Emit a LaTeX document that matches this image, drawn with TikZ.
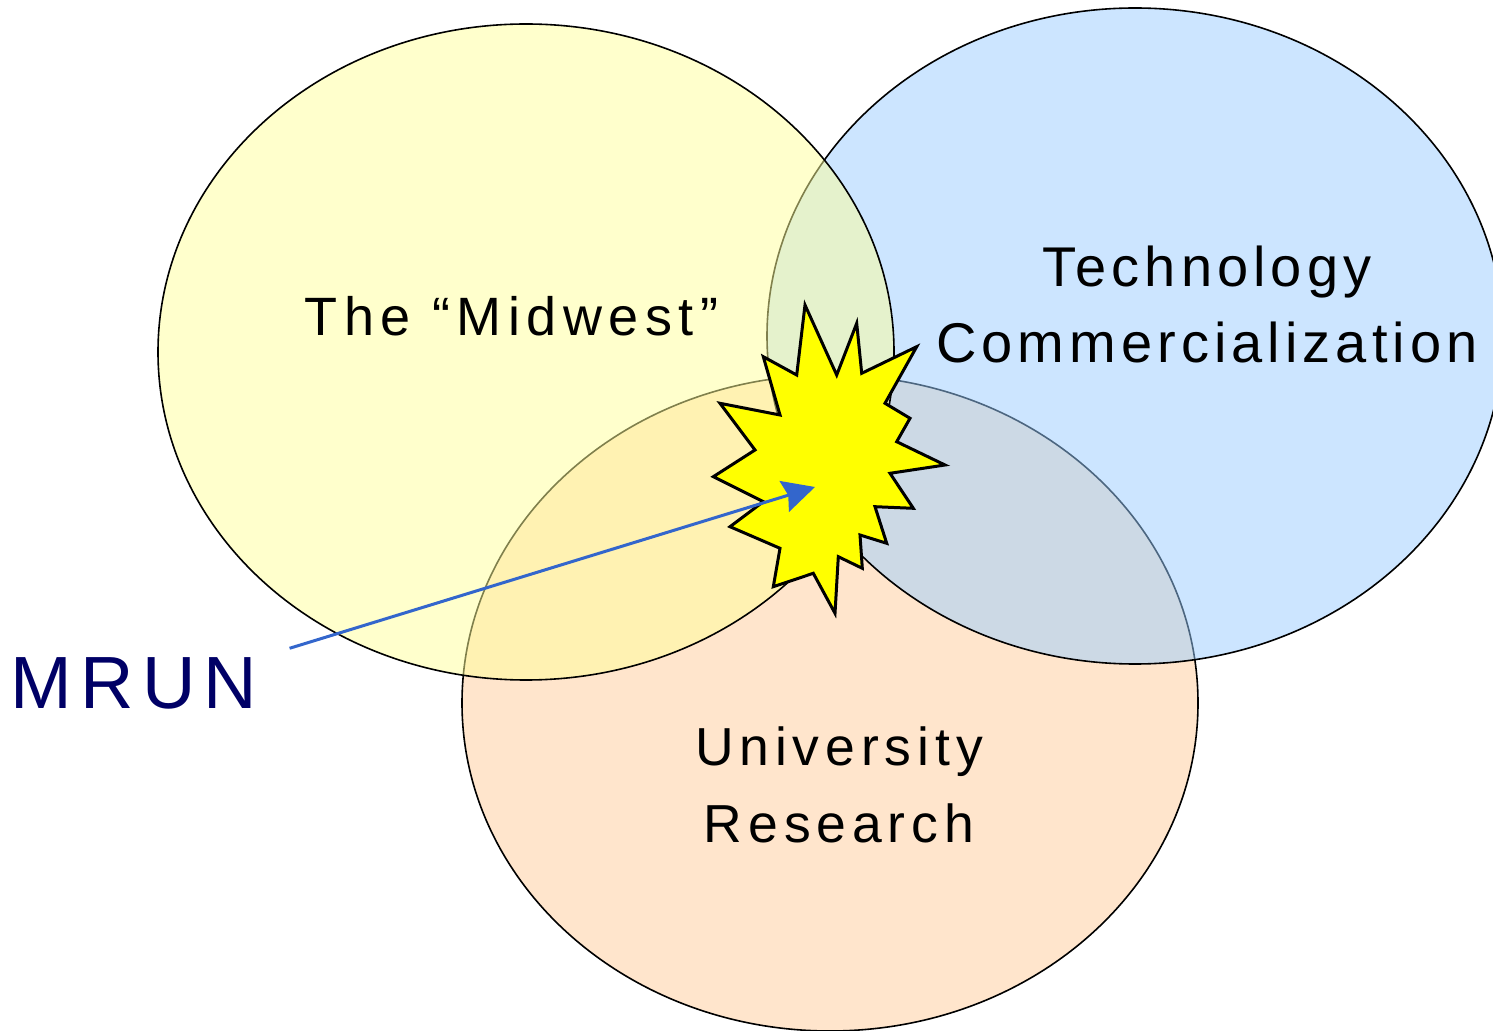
\documentclass[tikz,border=0pt]{standalone}
\usepackage{fontspec}
\setmainfont{Liberation Sans}
\usetikzlibrary{shapes.geometric,arrows.meta}
\definecolor{midyellow}{HTML}{FFFF99}
\definecolor{techblue}{HTML}{99CCFF}
\definecolor{unipeach}{HTML}{FFCC99}
\definecolor{burstyellow}{RGB}{255,255,0}
\definecolor{arrowblue}{HTML}{3366CC}
\definecolor{mrunnavy}{HTML}{000066}

\begin{document}
\begin{tikzpicture}[x=0.5pt,y=-0.5pt,
  area/.style={ellipse,draw=black,line width=0.8pt,fill opacity=0.5,
    minimum width=368pt,minimum height=328pt,inner sep=0pt},
  lbl/.style={inner sep=0pt,align=center,text=black}]
\tikzset{
  burst/.style={draw=black,fill=burstyellow,line width=1.5pt},
  pointer/.style={draw=arrowblue,line width=1.5pt,
    -{Stealth[length=16pt,width=16pt,inset=2pt]}}
}
\useasboundingbox (0,0) rectangle (1493,1031);
\node[area,fill=unipeach] (univ) at (830,703) {};
\node[area,fill=techblue] (tech) at (1135,336) {};
\node[area,fill=midyellow] (midwest) at (526,352) {};
\node[lbl,font=\fontsize{27}{38}\selectfont\addfontfeature{LetterSpace=12}]
  (midwestlbl) at (511.5,316) {The “Midwest”};
\node[lbl,font=\fontsize{28}{38.25}\selectfont\addfontfeature{LetterSpace=9}]
  (techlbl) at (1207,304.5) {Technology\\Commercialization};
\node[lbl,font=\fontsize{26.75}{38.5}\selectfont\addfontfeature{LetterSpace=11}]
  (univlbl) at (839,784.5) {University\\Research};
\node[lbl,text=mrunnavy,font=\fontsize{37}{44}\selectfont\addfontfeature{LetterSpace=11}]
  (mrun) at (134,683.5) {MRUN};
\draw[burst] (805,305) -- (836.7,375) -- (856.7,323.3) -- (861.7,373.3)
  -- (916.7,346.7) -- (885,403.3) -- (910,418.3) -- (896.7,441.7)
  -- (945,465) -- (890,473.3) -- (913.3,508.3) -- (875,506.7)
  -- (886.7,543.3) -- (860,535) -- (862.3,568.3) -- (838.3,556.7)
  -- (835,613.3) -- (813.3,573.3) -- (773.3,586.7) -- (780,548.3)
  -- (730,526.7) -- (763.3,501.7) -- (713.3,476.7) -- (755,450)
  -- (720,403.3) -- (780,415) -- (763.3,356.7) -- (796.7,375) -- cycle;
\coordinate (hit) at (815,487);
\coordinate (tail) at ([shift={(32,-9)}]mrun.north east);
\draw[pointer] (tail) -- (hit);
\end{tikzpicture}
\end{document}
